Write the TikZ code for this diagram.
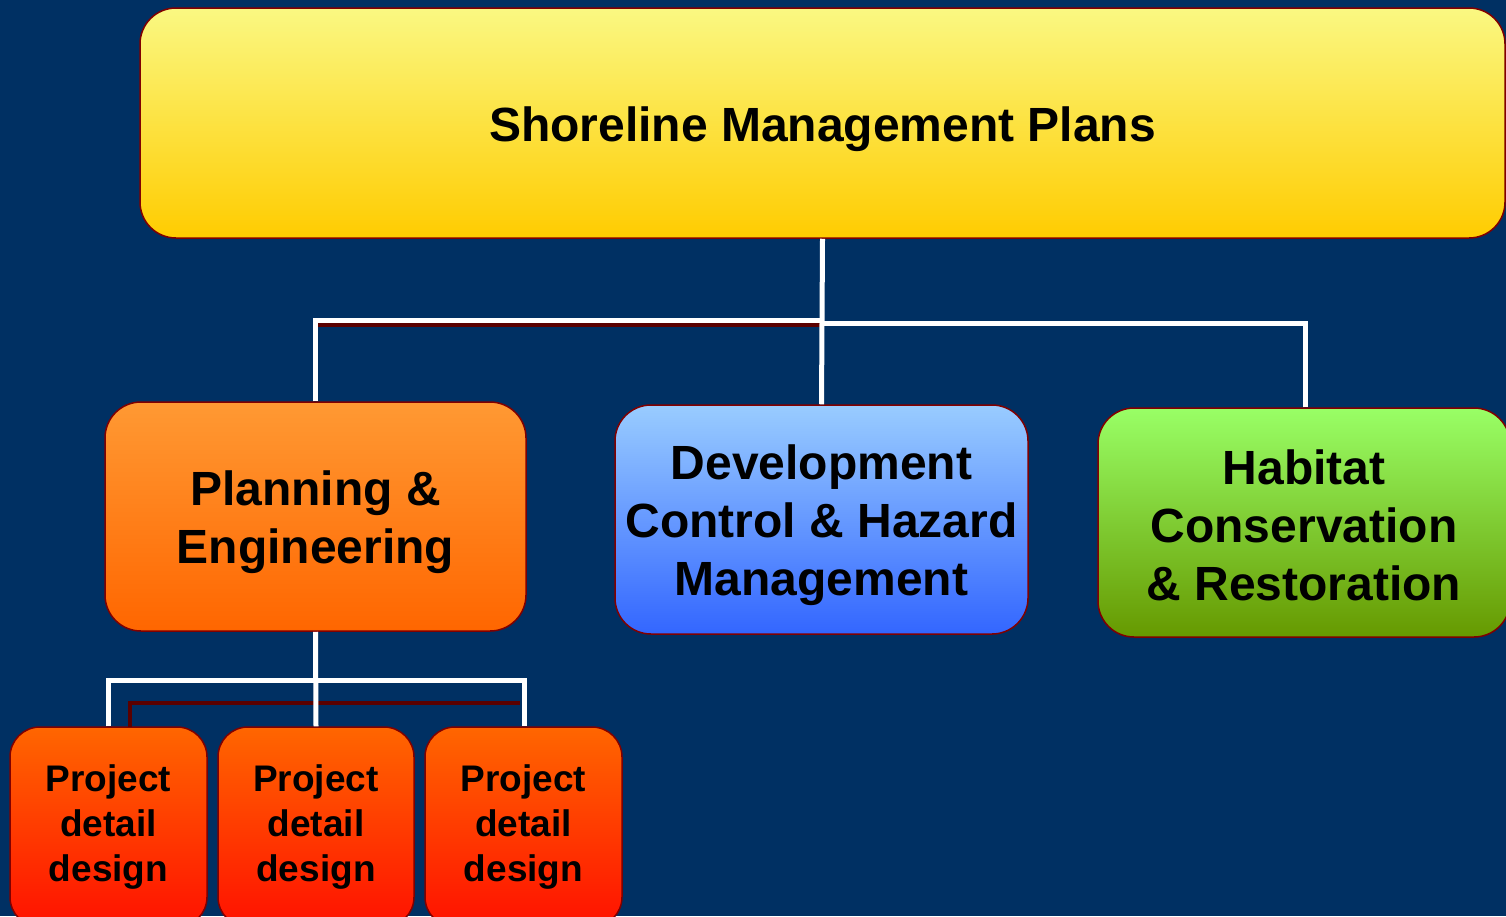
\documentclass[tikz,border=0pt]{standalone}
\usepackage{fontspec}
\setmainfont{Liberation Sans}
\definecolor{bg}{RGB}{0,48,99}
\definecolor{edge}{RGB}{128,0,0}
\definecolor{shadowred}{RGB}{90,0,0}
\definecolor{yelTop}{RGB}{250,248,130}
\definecolor{yelBot}{RGB}{255,204,0}
\definecolor{orTop}{RGB}{255,153,51}
\definecolor{orBot}{RGB}{255,102,0}
\definecolor{blTop}{RGB}{153,204,255}
\definecolor{blBot}{RGB}{51,102,255}
\definecolor{grTop}{RGB}{153,255,102}
\definecolor{grBot}{RGB}{102,153,0}
\definecolor{rdTop}{RGB}{255,102,0}
\definecolor{rdBot}{RGB}{255,17,0}
\newcommand{\liftby}[1]{\rule{0pt}{#1}}
\begin{document}
\begin{tikzpicture}[x=1pt,y=-1pt,
  box/.style={draw=edge, line width=1.5pt, align=center, inner sep=0pt},
  big/.style={box, rounded corners=36pt, font=\bfseries\fontsize{48}{58}\selectfont},
  small/.style={box, rounded corners=30pt, font=\bfseries\fontsize{37}{45}\selectfont},
  conn/.style={draw=white, line width=5pt},
  shadowline/.style={draw=shadowred, line width=4pt}]
\fill[bg] (0,0) rectangle (1506,916);
\useasboundingbox (0,0) rectangle (1506,916);
\begin{scope}
\clip (0,0) rectangle (1506,916);
% junction coordinates
\coordinate (jl) at (822,320);
\coordinate (jr) at (822,323);
\coordinate (jlow) at (316,680);
\coordinate (sa) at (130,703);
\coordinate (sb) at (520,703);
\coordinate (sc) at (130,727);
\coordinate (sd) at (316,324.5);
\coordinate (se) at (820,324.5);
% nodes
\node[big, top color=yelTop, bottom color=yelBot,
  minimum width=1365pt, minimum height=230pt] (top) at (822.5,123) {\liftby{47pt}Shoreline Management Plans};
\node[big, top color=orTop, bottom color=orBot,
  minimum width=421pt, minimum height=229pt] (plan) at (315.5,516.5) {\liftby{46pt}Planning \&\\Engineering};
\node[big, top color=blTop, bottom color=blBot,
  minimum width=413pt, minimum height=229pt] (dev) at (821.5,519.5) {\liftby{46pt}Development\\Control \& Hazard\\Management};
\node[big, top color=grTop, bottom color=grBot,
  minimum width=412pt, minimum height=229pt] (hab) at (1304,522.5) {\liftby{40pt}Habitat\\Conservation\\\& Restoration};
\node[small, top color=rdTop, bottom color=rdBot,
  minimum width=197pt, minimum height=200pt] (p1) at (108.5,827) {Project\\detail\\design};
\node[small, top color=rdTop, bottom color=rdBot,
  minimum width=196pt, minimum height=200pt] (p2) at (316,827) {Project\\detail\\design};
\node[small, top color=rdTop, bottom color=rdBot,
  minimum width=197pt, minimum height=200pt] (p3) at (523.5,827) {Project\\detail\\design};
% connectors
\draw[shadowline] (sd) -- (se);
\draw[conn] (top.south) -- (dev.north);
\draw[conn] (plan.north) |- (jl);
\draw[conn] (hab.north -| 1305,0) |- (jr);
\draw[shadowline] (sc) -- (sa) -- (sb);
\draw[conn] (plan.south) -- (p2.north);
\draw[conn] (p1.north -| 108,0) |- (jlow) -| (p3.north -| 524,0);
\end{scope}
\end{tikzpicture}
\end{document}
